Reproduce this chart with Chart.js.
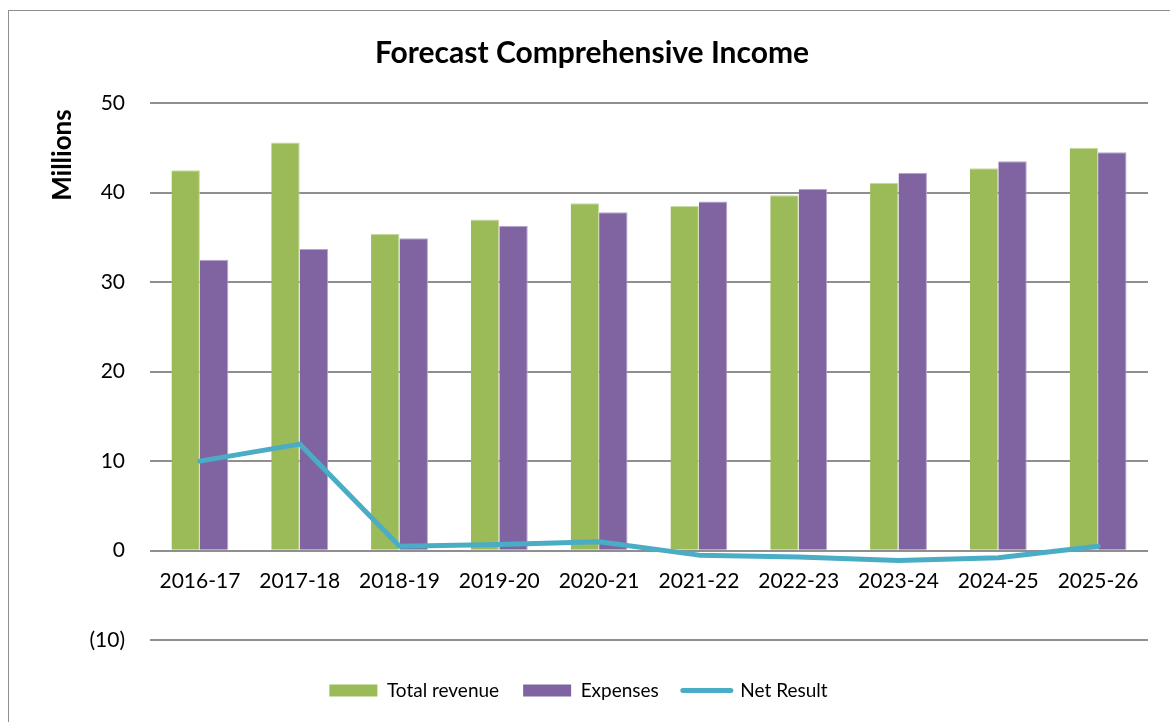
<!DOCTYPE html>
<html>
<head>
<meta charset="utf-8">
<title>Forecast Comprehensive Income</title>
<script src="https://cdn.jsdelivr.net/npm/chart.js@4/dist/chart.umd.min.js"></script>
<style>
  html, body { margin: 0; padding: 0; background: #fff; overflow: hidden; }
  #frame {
    position: absolute; left: 8px; top: 10px; width: 1400px; height: 900px;
    border-left: 1.5px solid #8e8e8e; border-top: 1.5px solid #8e8e8e;
  }
  #wrap { position: absolute; left: 0; top: 0; width: 1170px; height: 722px; }
</style>
</head>
<body>
<div id="frame"></div>
<div id="wrap"><canvas id="income-chart"></canvas></div>
<script>
const years = [
  "2016-17", "2017-18", "2018-19", "2019-20", "2020-21",
  "2021-22", "2022-23", "2023-24", "2024-25", "2025-26",
];
// $ millions
const totalRevenue = [42.5, 45.6, 35.4, 37.0, 38.8, 38.5, 39.7, 41.1, 42.7, 45.0];
const expenses = [32.5, 33.7, 34.9, 36.3, 37.8, 39.0, 40.4, 42.2, 43.5, 44.5];
const netResult = [10.0, 11.9, 0.5, 0.7, 1.0, -0.5, -0.7, -1.1, -0.8, 0.5];
const yTicks = [-10, 0, 10, 20, 30, 40, 50];

const GREEN = "#9BBB59";
const PURPLE = "#8064A2";
const TEAL = "#4BACC6";
const FONT = "Lato, 'Open Sans', sans-serif";

const chartEl = document.getElementById("income-chart");

const fmtMillions = (v) => (v < 0 ? `(${-v})` : `${v}`);

const legendLabels = (chart) => {
  const items = Chart.defaults.plugins.legend.labels.generateLabels(chart);
  return items.map((item) => {
    if (item.datasetIndex === 2) {
      item.pointStyle = "line";
      item.lineWidth = 5;
      item.strokeStyle = TEAL;
      item.lineCap = "round";
    } else {
      item.pointStyle = "rect";
      item.lineWidth = 0;
    }
    return item;
  });
};

// centre the title over the plot rather than the whole canvas
const centreBlocks = {
  id: "centreBlocks",
  afterLayout(chart) {
    if (chart.titleBlock) chart.titleBlock.left += 36;
    if (chart.legend) chart.legend.left += 9;
  },
};

new Chart(chartEl, {
  type: "bar",
  data: {
    labels: years,
    datasets: [
      {
        label: "Total revenue",
        data: totalRevenue,
        backgroundColor: GREEN,
        borderColor: "#c9dba6",
        borderWidth: { top: 1, right: 1, left: 0, bottom: 0 },
        categoryPercentage: 0.57,
        barPercentage: 1,
        order: 1,
      },
      {
        label: "Expenses",
        data: expenses,
        backgroundColor: PURPLE,
        borderColor: "#b7a6cc",
        borderWidth: { top: 1, right: 1, left: 0, bottom: 0 },
        categoryPercentage: 0.57,
        barPercentage: 1,
        order: 1,
      },
      {
        type: "line",
        label: "Net Result",
        data: netResult,
        borderColor: TEAL,
        backgroundColor: TEAL,
        borderWidth: 5,
        borderJoinStyle: "round",
        borderCapStyle: "round",
        pointRadius: 0,
        tension: 0,
        order: 0,
      },
    ],
  },
  options: {
    responsive: true,
    maintainAspectRatio: false,
    animation: false,
    devicePixelRatio: 1,
    layout: { padding: { left: 0, right: 22, top: 0, bottom: 12 } },
    scales: {
      x: {
        position: { y: 0 },
        grid: { display: false, drawTicks: false },
        border: { display: false },
        ticks: {
          color: "#000",
          padding: 18,
          maxRotation: 0,
          font: { family: FONT, size: 21 },
        },
      },
      y: {
        min: -10,
        max: 50,
        afterBuildTicks: (scale) => {
          scale.ticks = yTicks.map((value) => ({ value }));
        },
        afterFit: (scale) => {
          scale.width = 150;
        },
        grid: { color: "#8f8f8f", lineWidth: 2, drawTicks: false },
        border: { display: false },
        ticks: {
          color: "#000",
          padding: 25,
          callback: fmtMillions,
          font: { family: FONT, size: 21 },
        },
        title: {
          display: true,
          text: "Millions ",
          align: "end",
          color: "#000",
          padding: { top: 47, bottom: 0 },
          font: { family: FONT, size: 26, weight: "bold" },
        },
      },
    },
    plugins: {
      title: {
        display: true,
        text: "Forecast Comprehensive Income",
        color: "#000",
        padding: { top: 35, bottom: 32 },
        font: { family: FONT, size: 30, weight: "bold" },
      },
      legend: {
        position: "bottom",
        title: { display: true, text: "", padding: 0, font: { size: 14 } },
        labels: {
          color: "#000",
          usePointStyle: true,
          pointStyleWidth: 48,
          boxHeight: 12,
          padding: 24,
          font: { family: FONT, size: 19 },
          generateLabels: legendLabels,
          sort: (a, b) => a.datasetIndex - b.datasetIndex,
        },
      },
      tooltip: { enabled: false },
    },
  },
  plugins: [centreBlocks],
});
</script>
</body>
</html>
